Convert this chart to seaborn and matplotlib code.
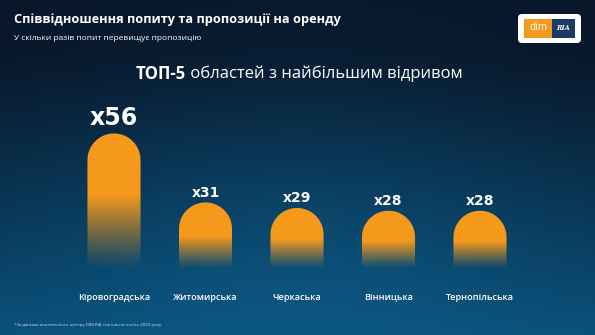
import numpy as np
import pandas as pd
import matplotlib
matplotlib.use("Agg")
import matplotlib.pyplot as plt
import seaborn as sns
from matplotlib.path import Path
from matplotlib.patches import PathPatch, FancyBboxPatch
from matplotlib.colors import to_rgb

# ---- data ----
regions = ["Кіровоградська", "Житомирська", "Черкаська", "Вінницька", "Тернопільська"]
ratios = [56, 31, 29, 28, 28]
value_labels = ["x56", "x31", "x29", "x28", "x28"]
title = "Співвідношення попиту та пропозиції на оренду"
subtitle = "У скільки разів попит перевищує пропозицію"
heading_bold = "ТОП-5"
heading_rest = " областей з найбільшим відривом"
footnote = "*За даними аналітичного центру DIM.RIA станом на січень 2025 року"

sns.set_theme(style="white")
FONT = ["Open Sans", "DejaVu Sans"]
plt.rcParams["font.family"] = FONT

W, H = 595, 335
fig = plt.figure(figsize=(W / 100, H / 100), dpi=100)

# ---- background gradient ----
bg = fig.add_axes([0, 0, 1, 1], zorder=0)
yy, xx = np.mgrid[0:1:200j, 0:1:360j]
top = np.array(to_rgb("#081629"))
bot = np.array(to_rgb("#0a4f77"))
t = np.clip((yy - 0.15) / 0.85, 0, 1) ** 1.2
img = top[None, None, :] * (1 - t[..., None]) + bot[None, None, :] * t[..., None]
rad = np.exp(-(((xx - 0.5) / 0.45) ** 2 + ((yy - 0.95) / 0.6) ** 2))
hl = np.array(to_rgb("#0d6191"))
img = img * (1 - 0.5 * rad[..., None]) + hl[None, None, :] * 0.5 * rad[..., None]
bg.imshow(img, extent=[0, 1, 0, 1], aspect="auto", origin="upper")
bg.set_axis_off()

# ---- bars axes ----
ax_left = 68.25 / W
ax_w = 457.5 / W
base_px = 288
px_per_unit = 2.76
ymax = 60
ax_b = (H - base_px) / H
ax_h = ymax * px_per_unit / H
ax = fig.add_axes([ax_left, ax_b, ax_w, ax_h], zorder=1)
ax.patch.set_alpha(0)

df = pd.DataFrame({"region": regions, "ratio": ratios})
sns.barplot(data=df, x="region", y="ratio", ax=ax, width=0.58, color="#f39a1e")
ax.set_xlim(-0.5, len(regions) - 0.5)
ax.set_ylim(0, ymax)
ax.set_axis_off()

orange = np.array(to_rgb("#f5991c"))
px_per_x = ax_w * W / len(regions)
for p, lab in zip(ax.patches, value_labels):
    x0, w, h = p.get_x(), p.get_width(), p.get_height()
    p.set_visible(False)
    rx = w / 2
    ry = rx * px_per_x / px_per_unit
    cx = x0 + rx
    th = np.linspace(0, np.pi, 60)
    verts = [(x0 + w, 0)] + [(cx + rx * np.cos(a), h - ry + ry * np.sin(a)) for a in th] + [(x0, 0), (x0 + w, 0)]
    codes = [Path.MOVETO] + [Path.LINETO] * (len(verts) - 2) + [Path.CLOSEPOLY]
    clip = PathPatch(Path(verts, codes), facecolor="none", edgecolor="none", transform=ax.transData)
    ax.add_patch(clip)
    ys = np.linspace(h, 0, 300)
    fade_start = 0.6 * h
    fade_end = 7.0
    alpha = np.clip((ys - fade_end) / (fade_start - fade_end), 0, 1) ** 1.1
    grad = np.zeros((300, 2, 4))
    grad[..., :3] = orange
    grad[..., 3] = alpha[:, None]
    im = ax.imshow(grad, extent=[x0, x0 + w, 0, h], aspect="auto", origin="upper", zorder=2)
    im.set_clip_path(clip)
    big = lab == "x56"
    ax.text(cx, h + (2.9 if big else 2.0), lab, ha="center", va="baseline",
            color="white", fontsize=17 if big else 10, fontweight="bold", zorder=3,
            family=["DejaVu Sans"])

# category labels
for i, r in enumerate(regions):
    fig.text((ax_left + ax_w * (i + 0.5) / len(regions)), 1 - 297 / H, r, ha="center", va="center",
             color="white", fontsize=6.6, fontweight="semibold")

ax.set_xlim(-0.5, len(regions) - 0.5)
ax.set_ylim(0, ymax)

# ---- texts ----
fig.text(14 / W, 1 - 20 / H, title, color="white", fontsize=9.2, fontweight="bold", va="center", ha="left")
fig.text(14 / W, 1 - 38 / H, subtitle, color="white", fontsize=6.0, va="center", ha="left")
hb = fig.text(0, 1 - 74 / H, heading_bold, color="white", fontsize=12, fontweight="bold", va="center", ha="left")
hr = fig.text(0, 1 - 74 / H, heading_rest, color="white", fontsize=12, va="center", ha="left")
fig.canvas.draw()
r = fig.canvas.get_renderer()
wb = hb.get_window_extent(r).width
wr = hr.get_window_extent(r).width
start = (W / 2 + 2 - (wb + wr) / 2)
hb.set_x(start / W)
hr.set_x((start + wb) / W)
fig.text(14 / W, 1 - 325 / H, footnote, color="white", fontsize=3.2, va="center", ha="left", alpha=0.8)

# ---- logo ----
lg = fig.add_axes([0, 0, 1, 1], zorder=4)
lg.set_xlim(0, W); lg.set_ylim(H, 0); lg.set_axis_off(); lg.patch.set_alpha(0)
lg.add_patch(FancyBboxPatch((518, 14), 63, 29, boxstyle="round,pad=0,rounding_size=4", fc="white", ec="none"))
lg.add_patch(FancyBboxPatch((524, 19), 28, 19, boxstyle="square,pad=0", fc="#f39a1e", ec="none"))
lg.add_patch(FancyBboxPatch((552, 19), 23, 19, boxstyle="square,pad=0", fc="#1b3a66", ec="none"))
lg.text(538, 28, "dim", color="white", fontsize=7.2, ha="center", va="center")
lg.text(563.5, 28, "RIA", color="white", fontsize=4.8, fontweight="bold", ha="center", va="center",
        family=["DejaVu Serif"], style="italic")

fig.savefig("out.png", dpi=100)
